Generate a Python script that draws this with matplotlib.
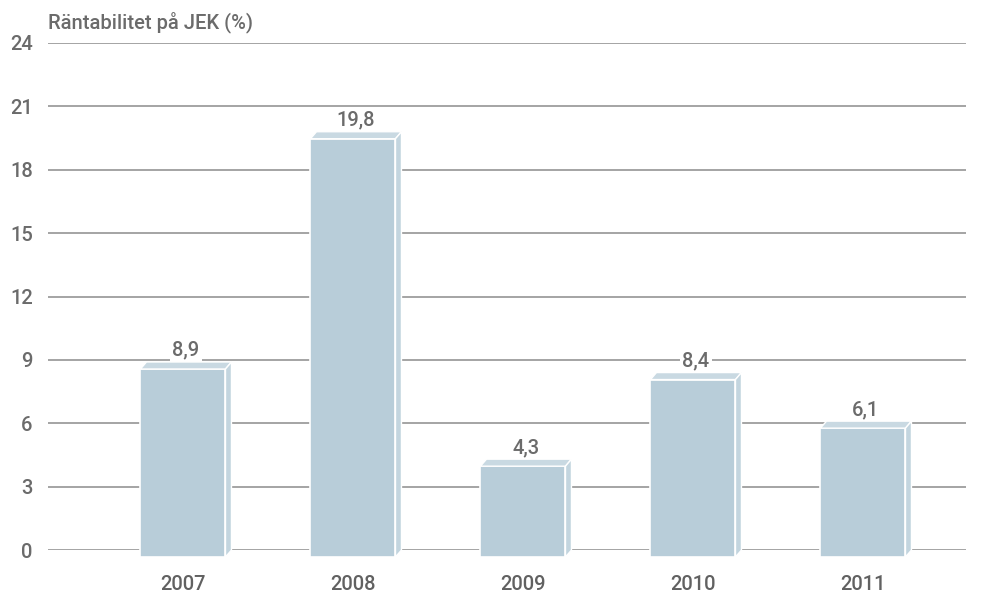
import matplotlib
matplotlib.use("Agg")
import matplotlib.pyplot as plt
from matplotlib.patches import Polygon, Rectangle

years = ["2007", "2008", "2009", "2010", "2011"]
values = [8.9, 19.8, 4.3, 8.4, 6.1]
yticks = [0, 3, 6, 9, 12, 15, 18, 21, 24]
title = "Räntabilitet på JEK (%)"

plt.rcParams['font.family'] = ['Roboto', 'DejaVu Sans']
txt = '#6b6b6b'
front_c = '#b8cdd9'
top_c = '#c9d9e2'
side_c = '#c3d5df'
fs = 14.5

fig = plt.figure(figsize=(9.94, 5.98), dpi=100)
ax = fig.add_axes([48/994, 1-550/598, (966-48)/994, (550-43)/598])
ax.set_xlim(-0.794, 4.606)
ax.set_ylim(0, 24)
for s in ax.spines.values():
    s.set_visible(False)
ax.set_yticks(yticks)
ax.set_yticklabels([str(t) for t in yticks])
ax.yaxis.grid(True, color='#8c8c8c', linewidth=1.1)
ax.set_axisbelow(True)
ax.tick_params(axis='y', length=0, pad=11, labelsize=fs, labelcolor=txt)
ax.set_xticks(range(len(years)))
ax.set_xticklabels(years)
ax.tick_params(axis='x', length=0, pad=18, labelsize=fs, labelcolor='#616161')
for lbl in ax.get_yticklabels() + ax.get_xticklabels():
    lbl.set_fontweight('medium')

w = 0.5
dx = 6/170.0
dy = 7/21.13
for i, v in enumerate(values):
    x0 = i - w/2
    x1 = x0 + w
    y0 = -dy
    y1 = v - dy
    ax.add_patch(Rectangle((x0, y0), w, v, facecolor=front_c, edgecolor='white',
                           linewidth=1.2, zorder=3, clip_on=False))
    ax.add_patch(Polygon([(x0, y1), (x0+dx, y1+dy), (x1+dx, y1+dy), (x1, y1)],
                         closed=True, facecolor=top_c, edgecolor='white',
                         linewidth=1.0, zorder=3, clip_on=False))
    ax.add_patch(Polygon([(x1, y0), (x1, y1), (x1+dx, y1+dy), (x1+dx, y0+dy)],
                         closed=True, facecolor=side_c, edgecolor='white',
                         linewidth=1.0, zorder=3, clip_on=False))
    ax.text(i + dx/2, v + 0.1, f"{v:.1f}".replace('.', ','), ha='center', va='bottom',
            fontsize=fs, color=txt, zorder=2.5, fontweight='medium',
            bbox=dict(facecolor='white', edgecolor='none', pad=1.8))

fig.text(48/994, 1-22/598, title, ha='left', va='center', fontsize=fs,
         color=txt, fontweight='medium')

fig.savefig("out.png", dpi=100)
